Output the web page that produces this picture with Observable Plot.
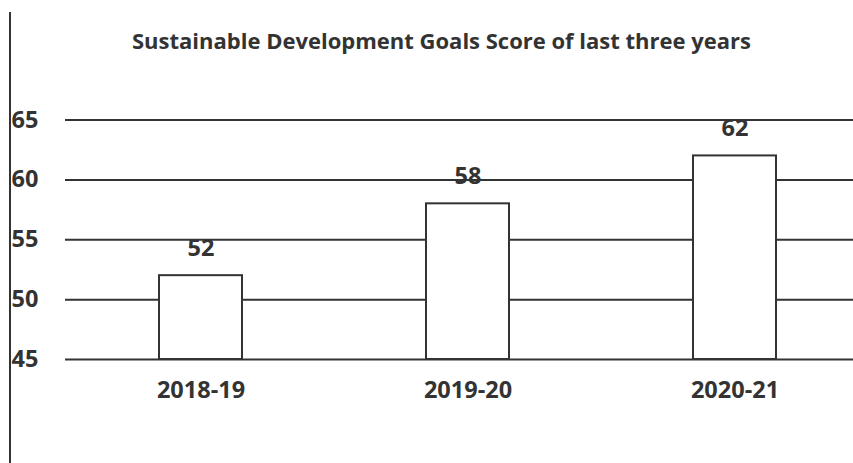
<!DOCTYPE html>
<html>
<head>
<meta charset="utf-8">
<script src="https://cdn.jsdelivr.net/npm/d3@7"></script>
<script src="https://cdn.jsdelivr.net/npm/@observablehq/plot@0.6"></script>
<style>
  html, body { margin: 0; padding: 0; background: #fff; }
  #wrap { position: relative; width: 853px; height: 463px; overflow: hidden; }
  #vline { position: absolute; left: 9px; top: 12px; width: 2px; height: 451px; background: #333; }
</style>
</head>
<body>
<div id="wrap"><div id="vline"></div></div>
<script>
const title = "Sustainable Development Goals Score of last three years";
const years = ["2018-19", "2019-20", "2020-21"];
const scores = [52, 58, 62];
const yTicks = [45, 50, 55, 60, 65];

const data = years.map((year, i) => ({year, score: scores[i]}));
const font = "'Open Sans', sans-serif";
const ink = "#333";

const chart = Plot.plot({
  width: 853,
  height: 463,
  marginLeft: 65,
  marginRight: 0,
  marginTop: 119.5,
  marginBottom: 104,
  style: {fontFamily: font, background: "transparent", overflow: "visible"},
  x: {domain: years, range: [65, 870], paddingInner: 0.69, paddingOuter: 0.352, axis: null},
  y: {domain: [45, 65], axis: null},
  marks: [
    Plot.ruleY(yTicks, {stroke: ink, strokeWidth: 2}),
    Plot.barY(data, {x: "year", y1: 45, y2: "score", fill: "white", stroke: ink, strokeWidth: 2}),
    Plot.text(data, {x: "year", y: "score", text: d => String(d.score), dy: -27.5, fontSize: 23.5, fontWeight: "bold", fill: ink}),
    Plot.text(data, {x: "year", y: () => 45, text: "year", dy: 31, fontSize: 23.5, fontWeight: "bold", fill: ink}),
    Plot.text(yTicks, {y: d => d, text: d => String(d), frameAnchor: "left", textAnchor: "start", dx: -54, fontSize: 23.5, fontWeight: "bold", fill: ink}),
    Plot.text([title], {frameAnchor: "top", text: d => d, dx: -18, dy: -87, fontSize: 22, fontWeight: "bold", fill: ink})
  ]
});
document.getElementById("wrap").prepend(chart);
</script>
</body>
</html>
